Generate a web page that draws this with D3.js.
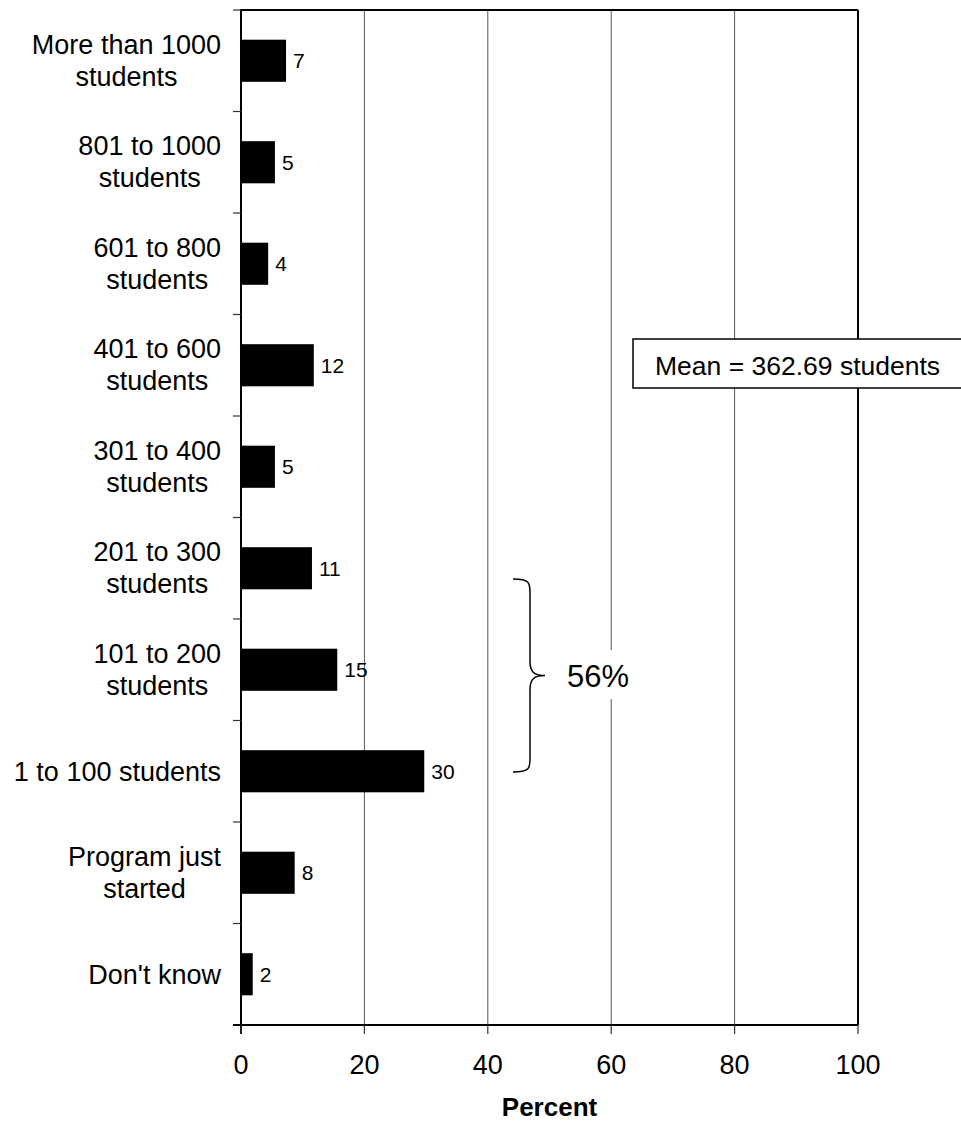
<!DOCTYPE html>
<html>
<head>
<meta charset="utf-8">
<script src="https://cdn.jsdelivr.net/npm/d3@7"></script>
<style>
  html, body { margin: 0; padding: 0; background: #fff; }
  svg { display: block; font-family: "Liberation Sans", Arial, sans-serif; }
</style>
</head>
<body>
<svg id="chart" width="961" height="1122"></svg>
<script>
// ---- Data ----
const categories = [
  "More than 1000 students",
  "801 to 1000 students",
  "601 to 800 students",
  "401 to 600 students",
  "301 to 400 students",
  "201 to 300 students",
  "101 to 200 students",
  "1 to 100 students",
  "Program just started",
  "Don't know"
];
const categoryLines = [
  ["More than 1000", "students"],
  ["801 to 1000", "students"],
  ["601 to 800", "students"],
  ["401 to 600", "students"],
  ["301 to 400", "students"],
  ["201 to 300", "students"],
  ["101 to 200", "students"],
  ["1 to 100 students"],
  ["Program just", "started"],
  ["Don't know"]
];
const percentValues = [7.3, 5.5, 4.4, 11.8, 5.5, 11.5, 15.6, 29.7, 8.7, 1.9];
const valueLabels = ["7", "5", "4", "12", "5", "11", "15", "30", "8", "2"];
const xTicks = [0, 20, 40, 60, 80, 100];
const xTitle = "Percent";
const meanText = "Mean = 362.69 students";
const braceText = "56%";

// ---- Layout ----
const svg = d3.select("#chart");
const pL = 241, pR = 858, pT = 10, pB = 1025;

const x = d3.scaleLinear().domain([0, 100]).range([pL, pR]);
const y = d3.scaleBand().domain(categories).range([pT, pB]).padding(0);
const barH = y.bandwidth() * 0.415;

// gridlines
svg.append("g")
  .selectAll("line")
  .data(xTicks.filter(t => t > 0 && t < 100))
  .join("line")
  .attr("x1", d => x(d)).attr("x2", d => x(d))
  .attr("y1", pT).attr("y2", pB)
  .attr("stroke", "#555").attr("stroke-width", 1);

// bars
svg.append("g")
  .selectAll("rect")
  .data(categories)
  .join("rect")
  .attr("x", x(0))
  .attr("y", (d) => y(d) + (y.bandwidth() - barH) / 2)
  .attr("width", (d, i) => x(percentValues[i]) - x(0))
  .attr("height", barH)
  .attr("fill", "#000");

// value labels
svg.append("g")
  .selectAll("text")
  .data(categories)
  .join("text")
  .attr("x", (d, i) => x(percentValues[i]) + 7)
  .attr("y", d => y(d) + y.bandwidth() / 2 + 7.5)
  .attr("font-size", 21)
  .attr("fill", "#000")
  .text((d, i) => valueLabels[i]);

// frame top and right
svg.append("line").attr("x1", pL).attr("x2", pR).attr("y1", pT).attr("y2", pT)
  .attr("stroke", "#000").attr("stroke-width", 2);
svg.append("line").attr("x1", pR).attr("x2", pR).attr("y1", pT).attr("y2", pB)
  .attr("stroke", "#000").attr("stroke-width", 2);

// left axis
svg.append("line").attr("x1", pL).attr("x2", pL).attr("y1", pT - 1).attr("y2", pB + 9)
  .attr("stroke", "#000").attr("stroke-width", 2);
const bounds = categories.map(c => y(c)).concat([pB]);
svg.append("g").selectAll("line").data(bounds).join("line")
  .attr("x1", pL - 8).attr("x2", pL)
  .attr("y1", d => d).attr("y2", d => d)
  .attr("stroke", "#333").attr("stroke-width", 1.2);

// bottom axis
svg.append("line").attr("x1", pL - 8).attr("x2", pR).attr("y1", pB).attr("y2", pB)
  .attr("stroke", "#000").attr("stroke-width", 2);
svg.append("g").selectAll("line").data(xTicks).join("line")
  .attr("x1", d => x(d)).attr("x2", d => x(d))
  .attr("y1", pB).attr("y2", pB + 9)
  .attr("stroke", "#333").attr("stroke-width", 1.2);
svg.append("g").selectAll("text").data(xTicks).join("text")
  .attr("x", d => x(d)).attr("y", 1074)
  .attr("text-anchor", "middle").attr("font-size", 27)
  .text(d => d);

// x title
svg.append("text").attr("x", (pL + pR) / 2).attr("y", 1116)
  .attr("text-anchor", "middle").attr("font-size", 26).attr("font-weight", "bold")
  .text(xTitle);

// category labels (centered block, right edge at ~221)
const labelRight = 221;
const catG = svg.append("g");
categories.forEach((c, i) => {
  const lines = categoryLines[i];
  const cy = y(c) + y.bandwidth() / 2;
  const t = catG.append("text").attr("font-size", 27).attr("text-anchor", "middle");
  const baselines = lines.length === 2 ? [cy - 7, cy + 24.8] : [cy + 9.7];
  const spans = lines.map((ln, j) => t.append("tspan").attr("y", baselines[j]).text(ln));
  const maxW = d3.max(spans, s => s.node().getComputedTextLength());
  spans.forEach(s => s.attr("x", labelRight - maxW / 2));
});

// mean box
const mg = svg.append("g");
mg.append("rect").attr("x", 633).attr("y", 339).attr("width", 340).attr("height", 49)
  .attr("fill", "#fff").attr("stroke", "#000").attr("stroke-width", 1.5);
mg.append("text").attr("x", 655).attr("y", 375).attr("font-size", 26.5).text(meanText);

// brace
const bx = 513, sx = 530, px = 545;
const yT = 579, yB = 772;
const yMid = (yT + yB) / 2;
const r = 14;
const braceD = `M${bx},${yT} C${sx},${yT} ${sx},${yT + 4} ${sx},${yT + r}
  L${sx},${yMid - r} C${sx},${yMid - 2} ${sx + 6},${yMid} ${px},${yMid}
  C${sx + 6},${yMid} ${sx},${yMid + 2} ${sx},${yMid + r}
  L${sx},${yB - r} C${sx},${yB - 4} ${sx},${yB} ${bx},${yB}`;
svg.append("path").attr("d", braceD).attr("fill", "none").attr("stroke", "#000").attr("stroke-width", 1.5);

const bg = svg.append("g");
const bRect = bg.append("rect").attr("fill", "#fff");
const bt = bg.append("text").attr("x", 567).attr("y", 687).attr("font-size", 31).text(braceText);
const bb = bt.node().getBBox();
bRect.attr("x", bb.x).attr("y", 650).attr("width", bb.width).attr("height", 49);
</script>
</body>
</html>
